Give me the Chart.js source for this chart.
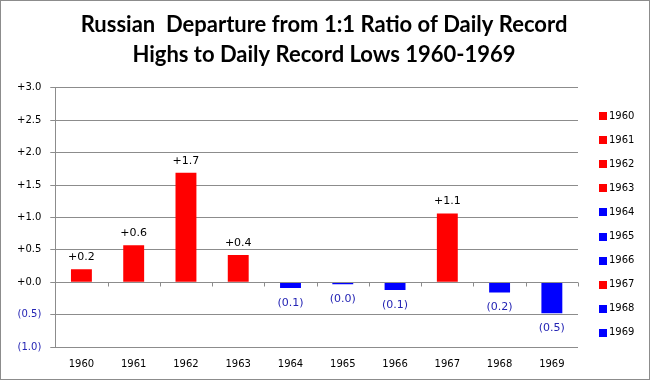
<!DOCTYPE html>
<html>
<head>
<meta charset="utf-8">
<script src="https://cdn.jsdelivr.net/npm/chart.js@4/dist/chart.umd.min.js"></script>
<style>
  body { margin: 0; background: #fff; }
</style>
</head>
<body>
<canvas id="chart" width="650" height="380"></canvas>
<script>
// Datos
const years = ['1960', '1961', '1962', '1963', '1964', '1965', '1966', '1967', '1968', '1969'];
const departures = [0.2, 0.57, 1.69, 0.42, -0.09, -0.03, -0.12, 1.06, -0.16, -0.48];
const titleLines = ['Russian  Departure from 1:1 Ratio of Daily Record', 'Highs to Daily Record Lows 1960-1969'];

const red = '#ff0000';
const blue = '#0000ff';
const negText = '#2424b4';
const barColors = departures.map(v => v >= 0 ? red : blue);

// formato tipo Excel: +0.2 / (0.1)
function fmt(v) {
  if (v < 0) return '(' + Math.abs(v).toFixed(1) + ')';
  return '+' + v.toFixed(1);
}

// fondo blanco y borde gris
const frame = {
  id: 'frame',
  beforeDraw(chart) {
    const c = chart.ctx;
    c.save();
    c.fillStyle = '#fff';
    c.fillRect(0, 0, chart.width, chart.height);
    c.restore();
  },
  afterDraw(chart) {
    const c = chart.ctx;
    c.save();
    c.strokeStyle = '#8c8c8c';
    c.lineWidth = 1;
    c.strokeRect(0.5, 0.5, chart.width - 1, chart.height - 1);
    c.restore();
  }
};

// marcas del eje X sobre la línea de cero
const zeroTicks = {
  id: 'zeroTicks',
  afterDatasetsDraw(chart) {
    const x = chart.scales.x, y = chart.scales.y;
    const y0 = Math.round(y.getPixelForValue(0)) + 0.5;
    const step = (x.right - x.left) / years.length;
    const c = chart.ctx;
    c.save();
    c.strokeStyle = '#8c8c8c';
    c.lineWidth = 1;
    c.beginPath();
    c.moveTo(x.left, y0);
    c.lineTo(x.right, y0);
    for (let i = 0; i <= years.length; i++) {
      const px = Math.round(x.left + i * step) + 0.5;
      c.moveTo(px, y0);
      c.lineTo(px, y0 + 4);
    }
    c.stroke();
    c.restore();
  }
};

// etiquetas de valor sobre/bajo cada barra
const barLabels = {
  id: 'barLabels',
  afterDatasetsDraw(chart) {
    const meta = chart.getDatasetMeta(0);
    const c = chart.ctx;
    c.save();
    c.font = '11px "DejaVu Sans"';
    c.textAlign = 'center';
    c.textBaseline = 'middle';
    meta.data.forEach((bar, i) => {
      const v = departures[i];
      if (v >= 0) {
        c.fillStyle = '#000';
        c.fillText(fmt(v), bar.x, bar.y - 12);
      } else {
        c.fillStyle = negText;
        c.fillText(fmt(v), bar.x, bar.y + 15);
      }
    });
    c.restore();
  }
};

// leyenda a la derecha, un año por fila
const sideLegend = {
  id: 'sideLegend',
  afterDraw(chart) {
    const c = chart.ctx;
    const area = chart.chartArea;
    const left = area.right + 21;
    const top = 116;
    const rowH = 24.1;
    c.save();
    c.font = '10px "DejaVu Sans"';
    c.textAlign = 'left';
    c.textBaseline = 'middle';
    years.forEach((yr, i) => {
      const cy = top + i * rowH;
      c.fillStyle = barColors[i];
      c.fillRect(left, Math.round(cy - 4), 8, 8);
      c.fillStyle = '#000';
      c.fillText(yr, left + 10, cy);
    });
    c.restore();
  }
};

const ctx = document.getElementById('chart').getContext('2d');
const chart = new Chart(ctx, {
  type: 'bar',
  data: {
    labels: years,
    datasets: [{
      data: departures,
      backgroundColor: barColors,
      borderWidth: 0,
      categoryPercentage: 1.0,
      barPercentage: 0.4
    }]
  },
  options: {
    responsive: false,
    animation: false,
    layout: { padding: { left: 8, right: 10, top: 0, bottom: 7 } },
    plugins: {
      title: {
        display: true,
        text: titleLines,
        color: '#000',
        font: { family: 'Lato', size: 22, weight: 'bold', lineHeight: 1.36 },
        padding: { top: 10, bottom: 18 }
      },
      legend: { display: false },
      tooltip: { enabled: false }
    },
    scales: {
      x: {
        grid: { display: false },
        border: { display: false },
        ticks: { color: '#000', font: { family: 'DejaVu Sans', size: 10 }, padding: 3 }
      },
      y: {
        min: -1,
        max: 3,
        ticks: {
          stepSize: 0.5,
          padding: 9,
          font: { family: 'DejaVu Sans', size: 10 },
          color: c => c.tick && c.tick.value < 0 ? negText : '#000',
          callback: v => fmt(v)
        },
        grid: { color: '#8c8c8c', tickLength: 5 },
        border: { display: true, color: '#8c8c8c' }
      },
      // eje vacío a la derecha: sólo reserva sitio para la leyenda
      legendSpace: {
        type: 'linear',
        position: 'right',
        display: true,
        grid: { display: false, drawOnChartArea: false },
        border: { display: false },
        ticks: { display: false },
        afterFit: s => { s.width = 62; }
      }
    }
  },
  plugins: [frame, zeroTicks, barLabels, sideLegend]
});
</script>
</body>
</html>
